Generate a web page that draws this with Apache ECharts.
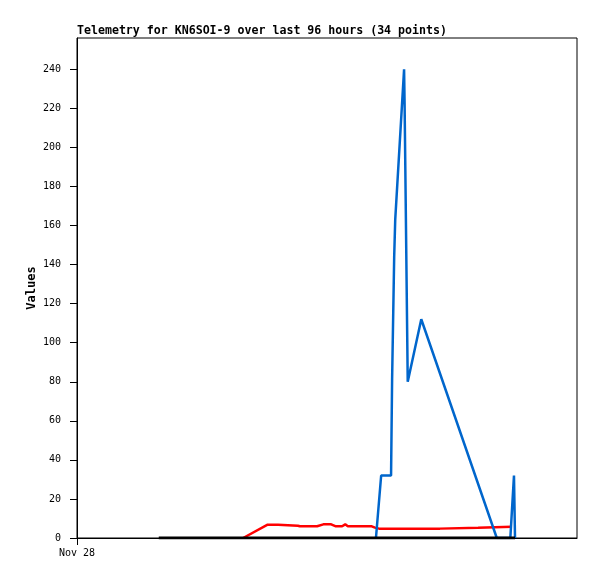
<!DOCTYPE html>
<html><head><meta charset="utf-8">
<script src="https://cdn.jsdelivr.net/npm/echarts@6/dist/echarts.min.js"></script>
<style>html,body{margin:0;padding:0;background:#fff}#c{width:597px;height:579px}</style>
</head><body><div id="c"></div>
<script>
// x values: hours since window start (Nov 28)
const titleText = 'Telemetry for KN6SOI-9 over last 96 hours (34 points)';
const yTicks = [0,20,40,60,80,100,120,140,160,180,200,220,240];
const xTicks = [0];
const xTickLabels = ['Nov 28'];

const blackX = [15.7, 84.1];
const blackY = [0, 0];

const redX = [31.9, 36.6, 38.6, 38.8, 42.4, 42.8, 46.1, 47.3, 48.8, 49.7, 50.9, 51.5, 52.0, 56.6, 57.2, 58.0, 69.7, 69.9, 77.0, 77.2, 83.5];
const redY = [0, 6.8, 6.8, 6.3, 6.3, 6.0, 6.0, 7.0, 7.0, 6.0, 6.0, 7.0, 6.0, 6.0, 5.3, 4.8, 4.8, 5.3, 5.3, 5.8, 5.8];

const blueX = [57.4, 58.4, 60.3, 60.5, 60.9, 61.1, 62.8, 62.9, 63.5, 66.1, 80.6, 83.2, 83.9, 84.1];
const blueY = [0, 32, 32, 81, 144, 163, 240, 222, 80, 112, 0, 0, 32, 0];

const zip = (xs, ys) => xs.map((x, i) => [x, ys[i]]);
const mono = 'DejaVu Sans Mono';

const chart = echarts.init(document.getElementById('c'), null, {renderer: 'canvas'});
chart.setOption({
  animation: false,
  backgroundColor: '#fff',
  title: {
    text: titleText, left: 77, top: 25, padding: 0,
    textStyle: {fontFamily: mono, fontSize: 11.6, fontWeight: 'bold', color: '#000'}
  },
  grid: {left: 77, top: 38, right: 20, bottom: 41, show: true, borderColor: '#000', borderWidth: 1, backgroundColor: 'transparent'},
  xAxis: {
    type: 'value', min: 0, max: 96,
    axisLine: {show: true, lineStyle: {color: '#000', width: 1}},
    axisTick: {show: true, length: 7, customValues: xTicks, lineStyle: {color: '#000'}},
    axisLabel: {show: true, customValues: xTicks, margin: 10, fontFamily: mono, fontSize: 10, color: '#000',
      formatter: v => { const i = xTicks.indexOf(v); return i >= 0 ? xTickLabels[i] : ''; }},
    splitLine: {show: false}
  },
  yAxis: {
    type: 'value', min: 0, max: 256,
    name: 'Values', nameLocation: 'middle', nameGap: 39, nameRotate: 90, nameMoveOverlap: false,
    nameTextStyle: {fontFamily: mono, fontSize: 12, fontWeight: 'bold', color: '#000'},
    axisLine: {show: true, lineStyle: {color: '#000', width: 1}},
    axisTick: {show: true, length: 7, customValues: yTicks, lineStyle: {color: '#000'}},
    axisLabel: {show: true, customValues: yTicks, margin: 16, fontFamily: mono, fontSize: 10, color: '#000'},
    splitLine: {show: false}
  },
  series: [
    {type: 'line', data: zip(redX, redY), showSymbol: false, symbol: 'none', z: 2,
      lineStyle: {color: '#ff0000', width: 2.5}},
    {type: 'line', data: zip(blueX, blueY), showSymbol: false, symbol: 'none', z: 3,
      lineStyle: {color: '#0066cc', width: 2.5}},
    {type: 'line', data: zip(blackX, blackY), showSymbol: false, symbol: 'none', z: 4,
      lineStyle: {color: '#000000', width: 3}}
  ]
});
</script></body></html>
